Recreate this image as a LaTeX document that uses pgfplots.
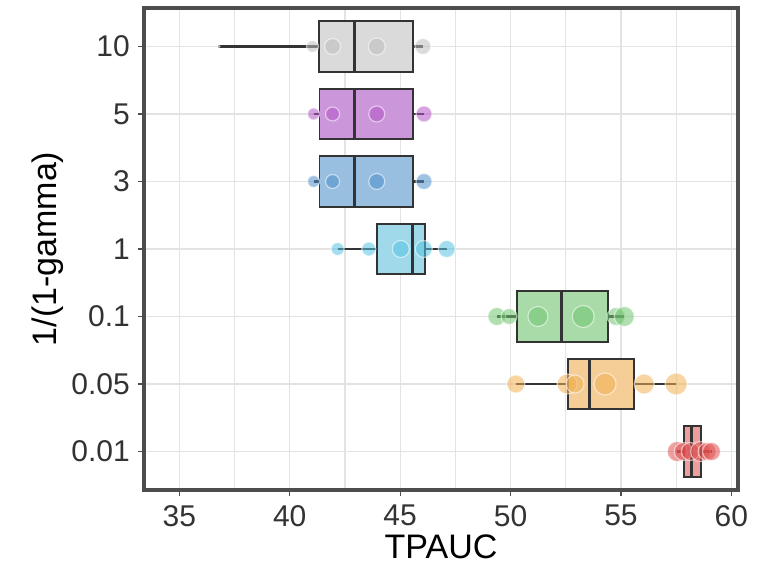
\documentclass[border=0pt]{standalone}
\usepackage{fontspec}
\setmainfont{Liberation Sans}
\usepackage{pgfplots}
\pgfplotsset{compat=1.18}
\usepgfplotslibrary{statistics}

\definecolor{gridc}{HTML}{E3E3E3}
\definecolor{framec}{HTML}{4D4D4D}
\definecolor{tickc}{HTML}{333333}
\definecolor{boxc}{HTML}{333333}
% box fills
\definecolor{bgray}{HTML}{DADADA}
\definecolor{bpurp}{HTML}{CB96DA}
\definecolor{bblue}{HTML}{98BEE0}
\definecolor{bcyan}{HTML}{A0DAEA}
\definecolor{bgreen}{HTML}{A9DBA9}
\definecolor{borange}{HTML}{F5CE97}
\definecolor{bred}{HTML}{EC9E9E}
% point colours
\definecolor{pgray}{HTML}{BDBDBD}
\definecolor{ppurp}{HTML}{B455C6}
\definecolor{pblue}{HTML}{4F92CB}
\definecolor{pcyan}{HTML}{55C3E2}
\definecolor{pgreen}{HTML}{6FC46F}
\definecolor{porange}{HTML}{F0B052}
\definecolor{pred}{HTML}{E04F4F}

\pgfplotsset{
  wh/.style={draw=boxc, line width=2.2pt, no marks},
  bx/.style={boxplot prepared, boxplot/draw direction=x, boxplot/box extend=0.75,
    boxplot/whisker extend=0, draw=boxc, line width=1.8pt, fill=#1,
    boxplot/every median/.style={line width=3pt}},
  pts/.style={only marks, mark=*, scatter, point meta=\thisrow{s},
    visualization depends on={\thisrow{s}\as\psz},
    scatter/@pre marker code/.code={\scope[mark size=\psz, draw=white, fill=#1,
      fill opacity=0.55, draw opacity=0.55, line width=1.2pt]},
    scatter/@post marker code/.code={\endscope}},
}

\begin{document}
\begin{tikzpicture}
\begin{axis}[
  scale only axis, width=594pt, height=482pt, clip=false,
  xmin=33.4, xmax=60.3, ymin=0.43, ymax=7.57,
  xtick={35,40,...,60}, minor xtick={37.5,42.5,...,57.5},
  ytick={1,...,7}, yticklabels={0.01,0.05,0.1,1,3,5,10},
  grid=both,
  major grid style={draw=gridc, line width=1.2pt},
  minor grid style={draw=gridc, line width=1.2pt},
  axis line style={draw=framec},
  tick align=outside, xtick pos=left, ytick pos=left,
  major tick length=6pt, minor tick length=0pt,
  tick style={draw=framec, line width=1.3pt},
  ticklabel style={font=\fontsize{30}{30}\selectfont, text=tickc, inner sep=0pt},
  xticklabel style={yshift=-9pt},
  yticklabel style={xshift=-8pt},
  /pgf/number format/assume math mode=true,
  xlabel={TPAUC}, ylabel={1/(1-gamma)},
  label style={font=\fontsize{34}{34}\selectfont, text=black, inner sep=0pt},
  xlabel style={yshift=-8pt},
  ylabel style={yshift=8pt},
]
% whiskers (min to max), drawn under the boxes
\addplot[wh] coordinates {(57.55,1) (59.1,1)};
\addplot[wh] coordinates {(50.24,2) (57.5,2)};
\addplot[wh] coordinates {(49.38,3) (55.15,3)};
\addplot[wh] coordinates {(42.17,4) (47.11,4)};
\addplot[wh] coordinates {(41.08,5) (46.08,5)};
\addplot[wh] coordinates {(41.08,6) (46.08,6)};
\addplot[wh] coordinates {(36.77,7) (46.03,7)};

% boxes, bottom to top: 0.01, 0.05, 0.1, 1, 3, 5, 10
\addplot[bx=bred, boxplot prepared={draw position=1, lower whisker=57.55, lower quartile=57.87, median=58.19, upper quartile=58.64, upper whisker=59.1}] coordinates {};
\addplot[bx=borange, boxplot prepared={draw position=2, lower whisker=50.24, lower quartile=52.6, median=53.56, upper quartile=55.6, upper whisker=57.5}] coordinates {};
\addplot[bx=bgreen, boxplot prepared={draw position=3, lower whisker=49.38, lower quartile=50.29, median=52.29, upper quartile=54.42, upper whisker=55.15}] coordinates {};
\addplot[bx=bcyan, boxplot prepared={draw position=4, lower whisker=42.17, lower quartile=43.94, median=45.57, upper quartile=46.12, upper whisker=47.11}] coordinates {};
\addplot[bx=bblue, boxplot prepared={draw position=5, lower whisker=41.08, lower quartile=41.35, median=42.94, upper quartile=45.57, upper whisker=46.08}] coordinates {};
\addplot[bx=bpurp, boxplot prepared={draw position=6, lower whisker=41.08, lower quartile=41.35, median=42.94, upper quartile=45.57, upper whisker=46.08}] coordinates {};
\addplot[bx=bgray, boxplot prepared={draw position=7, lower whisker=36.77, lower quartile=41.31, median=42.94, upper quartile=45.57, upper whisker=46.03}] coordinates {};

% points
\addplot[pts=pred] table[row sep=\\] {x y s\\ 57.55 1 10\\ 57.82 1 9\\ 58.14 1 9\\ 58.6 1 10\\ 58.9 1 9\\ 59.1 1 9\\};
\addplot[pts=porange] table[row sep=\\] {x y s\\ 50.24 2 9\\ 52.56 2 10\\ 52.92 2 9\\ 54.28 2 11\\ 56.05 2 10\\ 57.5 2 11\\};
\addplot[pts=pgreen] table[row sep=\\] {x y s\\ 49.38 3 9\\ 49.93 3 8\\ 51.24 3 10\\ 53.29 3 11\\ 54.78 3 9\\ 55.15 3 10\\};
\addplot[pts=pcyan] table[row sep=\\] {x y s\\ 42.17 4 6.5\\ 43.58 4 7\\ 45.03 4 8.5\\ 46.07 4 8.5\\ 47.11 4 8.5\\};
\addplot[pts=pblue] table[row sep=\\] {x y s\\ 41.08 5 6\\ 41.94 5 7\\ 43.94 5 8\\ 46.08 5 8\\};
\addplot[pts=ppurp] table[row sep=\\] {x y s\\ 41.08 6 6\\ 41.94 6 7\\ 43.94 6 8\\ 46.08 6 8\\};
\addplot[pts=pgray] table[row sep=\\] {x y s\\ 36.77 7 1.5\\ 41.03 7 6\\ 41.94 7 8\\ 43.94 7 8.5\\ 46.03 7 8\\};

\draw[framec, line width=3.8pt] (rel axis cs:0,0) rectangle (rel axis cs:1,1);
\end{axis}
\path (current axis.south west) ++(-144pt,-77pt);
\path (current axis.north east) ++(22pt,8pt);
\end{tikzpicture}
\end{document}
